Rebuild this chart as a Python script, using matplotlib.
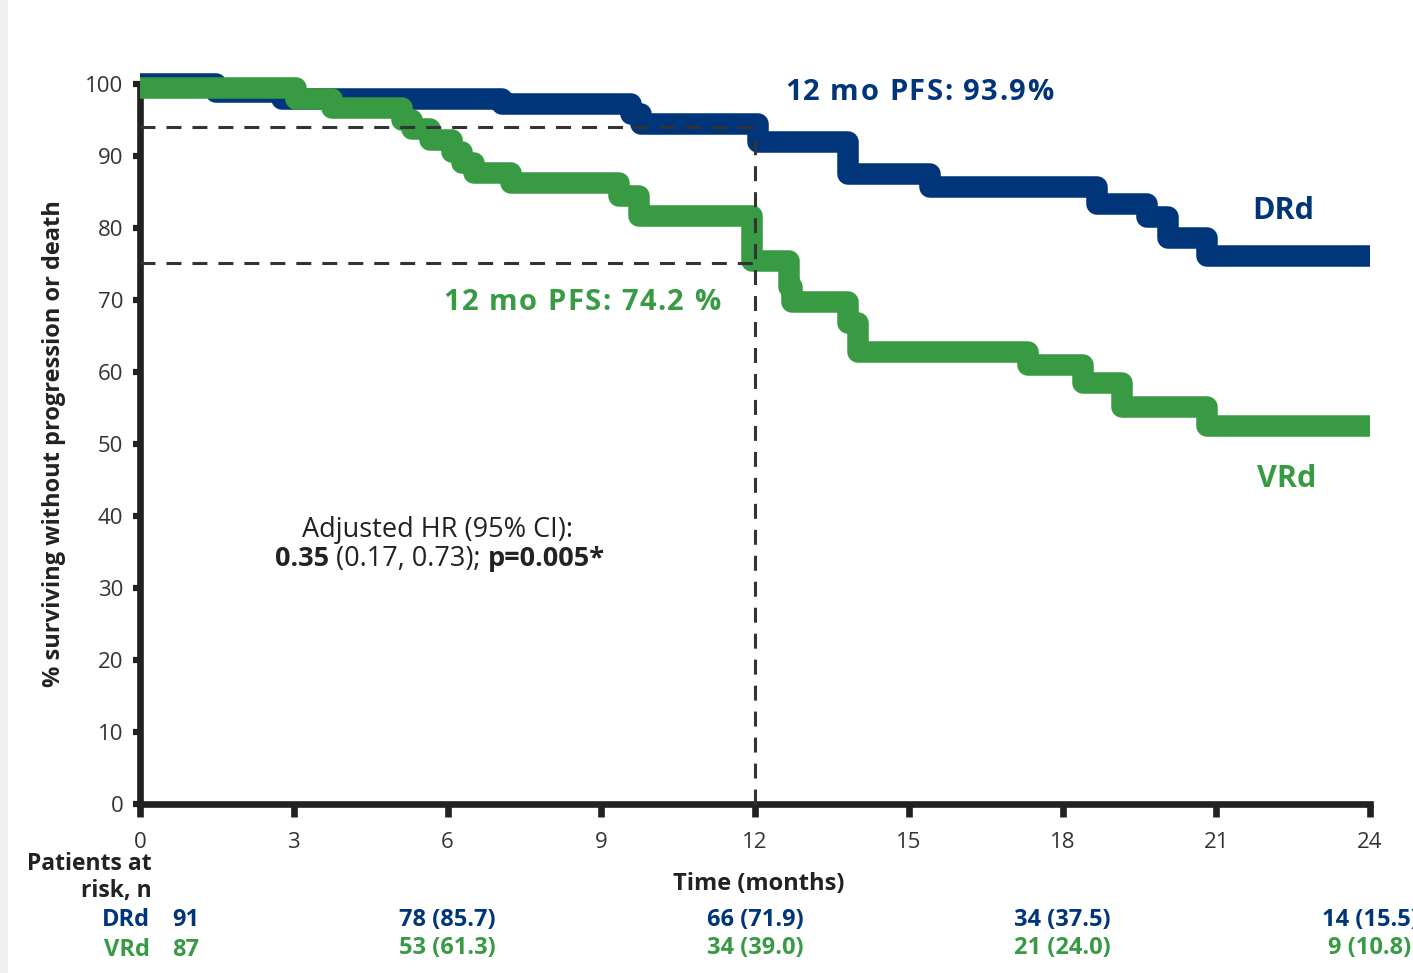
import matplotlib
matplotlib.use("Agg")
import matplotlib.pyplot as plt
from matplotlib.patches import Rectangle
import matplotlib.transforms as mtransforms

# ---------------- data ----------------
drd_times = [0, 1.48, 2.78, 7.07, 9.58, 9.78, 12.05, 13.81, 15.42, 18.68, 19.64, 20.05, 20.81, 24]
drd_surv = [100, 98.8, 97.8, 97.1, 95.8, 94.4, 91.9, 87.5, 85.7, 83.3, 81.5, 78.5, 76.1, 76.1]

vrd_times = [0, 3.04, 3.75, 5.11, 5.31, 5.65, 6.09, 6.29, 6.52, 7.24, 9.35, 9.74, 11.95,
             12.66, 12.73, 13.81, 14.0, 17.33, 18.4, 19.17, 20.81, 24]
vrd_surv = [99.4, 97.8, 96.6, 95.0, 93.7, 92.1, 90.5, 88.9, 87.6, 86.2, 84.4, 81.6, 75.3,
            71.8, 69.7, 66.8, 62.8, 60.9, 58.5, 55.1, 52.4, 52.4]

x_ticks = [0, 3, 6, 9, 12, 15, 18, 21, 24]
y_ticks = [0, 10, 20, 30, 40, 50, 60, 70, 80, 90, 100]

landmark_month = 12
drd_landmark_level = 94.0
vrd_landmark_level = 75.1

risk_times = [0, 6, 12, 18, 24]
drd_risk = ["91", "78 (85.7)", "66 (71.9)", "34 (37.5)", "14 (15.5)"]
vrd_risk = ["87", "53 (61.3)", "34 (39.0)", "21 (24.0)", "9 (10.8)"]

BLUE = "#00357a"
GREEN = "#389b43"
DARK = "#222222"

W, H = 1413, 973
plt.rcParams['font.family'] = ['Open Sans', 'DejaVu Sans']

fig = plt.figure(figsize=(W / 100, H / 100), dpi=100)
fig.patch.set_facecolor("white")
fig.add_artist(Rectangle((0, 0), 8 / W, 1, transform=fig.transFigure,
                         facecolor="#f0f0f0", edgecolor="none", zorder=0))
renderer = fig.canvas.get_renderer()

x0, x1 = 140, 1370
y0, y100 = 804, 83.5
ax = fig.add_axes([x0 / W, (H - y0) / H, (x1 - x0) / W, (y0 - y100) / H])
ax.set_xlim(0, 24)
ax.set_ylim(0, 100)
ax.patch.set_alpha(0)

for s in ["top", "right"]:
    ax.spines[s].set_visible(False)
for s in ["left", "bottom"]:
    ax.spines[s].set_linewidth(4.8)
    ax.spines[s].set_color(DARK)
    ax.spines[s].set_capstyle("projecting")

ax.set_xticks(x_ticks)
ax.set_yticks(y_ticks)
ax.tick_params(axis="x", direction="out", length=9, width=4.8, color=DARK,
               labelsize=16, labelcolor="#333333", pad=11)
ax.tick_params(axis="y", direction="out", length=5, width=4.5, color=DARK,
               labelsize=16, labelcolor="#333333", pad=7)

# curves
lw = 15.5
ax.plot(drd_times, drd_surv, drawstyle="steps-post", color=BLUE, lw=lw,
        solid_joinstyle="round", solid_capstyle="butt", clip_on=False, zorder=3)
ax.plot(vrd_times, vrd_surv, drawstyle="steps-post", color=GREEN, lw=lw,
        solid_joinstyle="round", solid_capstyle="butt", clip_on=False, zorder=4)

# landmark dashed lines
dash = (0, (4.9, 3.6))
ax.plot([0, landmark_month], [drd_landmark_level] * 2, color="#333333", lw=2.2,
        linestyle=dash, zorder=6, clip_on=False)
ax.plot([0, landmark_month], [vrd_landmark_level] * 2, color="#333333", lw=2.2,
        linestyle=dash, zorder=6, clip_on=False)
ax.plot([landmark_month] * 2, [0, drd_landmark_level], color="#333333", lw=2.2,
        linestyle=dash, zorder=6, clip_on=False)


def fx(px):
    return px / W


def fy(py):
    return 1 - py / H


def text_width(s, **kw):
    t = fig.text(0, 0, s, **kw)
    w = t.get_window_extent(renderer).width
    t.remove()
    return w


def tracked_text(cx, cy, s, track, **kw):
    """Draw text centred at pixel (cx, cy) with extra letter spacing (px)."""
    ref = text_width("l", **kw)
    offs = [0.0] + [text_width(s[:i] + "l", **kw) - ref for i in range(1, len(s))]
    total = text_width(s, **kw) + track * (len(s) - 1)
    left = cx - total / 2
    for i, ch in enumerate(s):
        if ch == " ":
            continue
        fig.text(fx(left + offs[i] + i * track), fy(cy), ch, ha="left", va="center", **kw)


def runs_text(cx, cy, runs, **kw):
    """Draw mixed-weight runs centred at pixel (cx, cy)."""
    widths = []
    for s, wgt in runs:
        a = text_width(s + "l", fontweight=wgt, **kw)
        b = text_width("l", fontweight=wgt, **kw)
        widths.append(a - b)
    total = sum(widths)
    left = cx - total / 2
    for (s, wgt), w in zip(runs, widths):
        fig.text(fx(left), fy(cy), s, ha="left", va="center", fontweight=wgt, **kw)
        left += w


# annotations
tracked_text(919, 93, "12 mo PFS: 93.9%", 1.5, color=BLUE, fontsize=21, fontweight="bold")
tracked_text(582, 302, "12 mo PFS: 74.2 %", 1.5, color=GREEN, fontsize=21, fontweight="bold")
fig.text(fx(1283), fy(211), "DRd", color=BLUE, fontsize=22, fontweight="bold",
         ha="center", va="center")
fig.text(fx(1287), fy(479), "VRd", color=GREEN, fontsize=22, fontweight="bold",
         ha="center", va="center")

fig.text(fx(438), fy(530), "Adjusted HR (95% CI):", color=DARK, fontsize=19.5,
         ha="center", va="center")
runs_text(440, 559, [("0.35", "bold"), (" (0.17, 0.73); ", "normal"), ("p=0.005*", "bold")],
          color=DARK, fontsize=19.5)

ax.set_ylabel("% surviving without progression or death", fontsize=17, fontweight="bold",
              color=DARK, labelpad=14)

# risk table
fs = 16.5
fig.text(fx(152), fy(864), "Patients at", color=DARK, fontsize=fs, fontweight="bold",
         ha="right", va="center")
fig.text(fx(152), fy(891), "risk, n", color=DARK, fontsize=fs, fontweight="bold",
         ha="right", va="center")
fig.text(fx(759), fy(884), "Time (months)", color=DARK, fontsize=17, fontweight="bold",
         ha="center", va="center")
fig.text(fx(150), fy(920), "DRd", color=BLUE, fontsize=17, fontweight="bold",
         ha="right", va="center")
fig.text(fx(150), fy(950), "VRd", color=GREEN, fontsize=17, fontweight="bold",
         ha="right", va="center")

trans = mtransforms.blended_transform_factory(ax.transData, fig.transFigure)
for t, d, v in zip(risk_times, drd_risk, vrd_risk):
    if t == 0:
        fig.text(fx(172), fy(920), d, color=BLUE, fontsize=17, fontweight="bold",
                 ha="left", va="center")
        fig.text(fx(172), fy(950), v, color=GREEN, fontsize=17, fontweight="bold",
                 ha="left", va="center")
    else:
        fig.text(t, fy(920), d, color=BLUE, fontsize=17, fontweight="bold",
                 ha="center", va="center", transform=trans)
        fig.text(t, fy(948), v, color=GREEN, fontsize=17, fontweight="bold",
                 ha="center", va="center", transform=trans)

fig.savefig("out.png", dpi=100)
